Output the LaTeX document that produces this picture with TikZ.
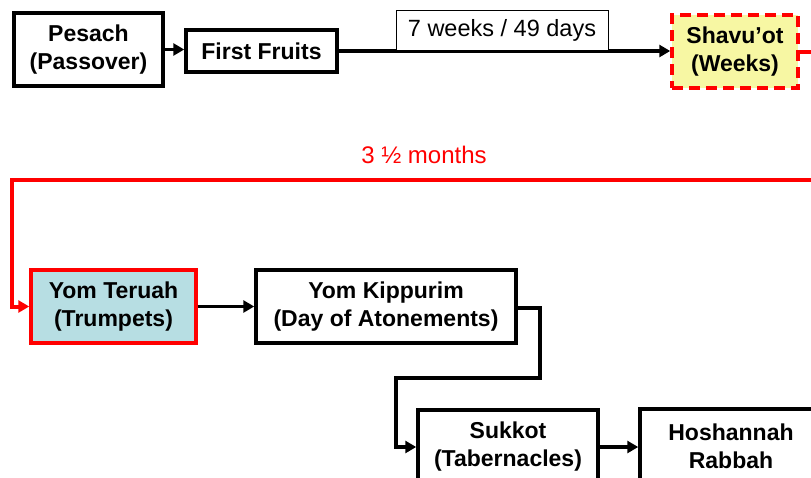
\documentclass[tikz,border=0pt]{standalone}
\usepackage{fontspec}
\setmainfont{Liberation Sans}
\usetikzlibrary{arrows.meta}
\definecolor{yel}{HTML}{F7F7A3}
\definecolor{lblue}{HTML}{B7DEE3}
\definecolor{myred}{HTML}{FF0000}
\tikzset{
  box/.style={draw=black, line width=3.5pt, fill=white, align=center, inner sep=0pt,
    font=\fontsize{23}{28}\selectfont\bfseries},
  conn/.style={line width=3.5pt, draw=black},
  arr/.style={conn, -{Triangle[length=11pt,width=12pt]}},
  redarr/.style={line width=4pt, draw=myred, -{Triangle[length=11pt,width=12pt]}},
}
\begin{document}
\begin{tikzpicture}[x=1pt,y=-1pt]
\useasboundingbox (0,0) rectangle (811,477);
\clip (0,0) rectangle (811,477);
\fill[white] (0,0) rectangle (811,477);
% top row
\node[box, minimum width=149pt, minimum height=73pt] (pes) at (88.5,49.5) {Pesach\\(Passover)};
\node[box, minimum width=151pt, minimum height=42pt] (ff) at (261.5,51) {First Fruits};
\node[box, draw=myred, dash pattern=on 11pt off 6pt, fill=yel, minimum width=126pt, minimum height=73pt] (sha) at (735,51.5) {Shavu’ot\\(Weeks)};
\coordinate (shaR) at (820,51.5);
\draw[arr] (pes.east) -- (pes.east -| ff.west);
\draw[arr] (ff.east) -- (ff.east -| sha.west);
\node[draw=black, line width=1pt, fill=white, minimum width=212pt, minimum height=40pt, inner sep=0pt,
  font=\fontsize{23.5}{27}\selectfont, anchor=south] (wk) at (502,51) {7 weeks / 49 days};
\draw[line width=4pt, myred, dash pattern=on 11pt off 6pt] (sha.east) -- (shaR);
% red connector
\node[text=myred, font=\fontsize{24}{28}\selectfont] (mon) at (424,155) {3 ½ months};
\node[box, draw=myred, fill=lblue, minimum width=165pt, minimum height=73pt] (yt) at (113.5,306.5) {Yom Teruah\\(Trumpets)};
\coordinate (rs) at (820,180);
\coordinate (rc) at (12,180);
\draw[redarr] (rs) -- (rc) |- (yt.west);
% middle row
\node[box, minimum width=260pt, minimum height=73pt] (yk) at (386,306.5) {Yom Kippurim\\(Day of Atonements)};
\draw[arr] (yt.east) -- (yk.west);
% bottom row
\node[box, minimum width=180pt, minimum height=74pt] (suk) at (508,447) {Sukkot\\(Tabernacles)};
\node[box, minimum width=182pt, minimum height=74pt] (hos) at (731,446) {Hoshannah\\Rabbah};
\coordinate (k1) at (540,308);
\coordinate (k2) at (540,378);
\coordinate (k3) at (396,378);
\draw[arr] (yk.east |- k1) -- (k1) -- (k2) -- (k3) |- (suk.west);
\draw[arr] (suk.east) -- (suk.east -| hos.west);
\end{tikzpicture}
\end{document}
